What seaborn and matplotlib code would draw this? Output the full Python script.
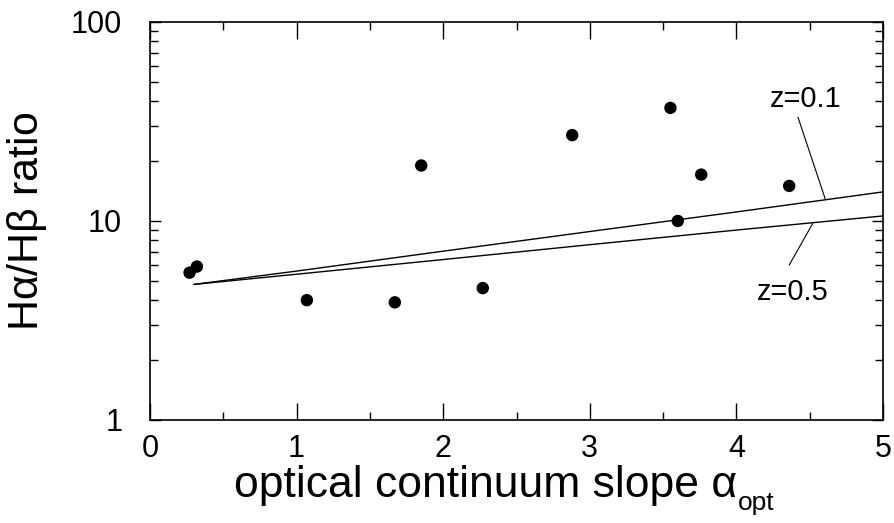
import numpy as np
import pandas as pd
import matplotlib
matplotlib.use("Agg")
import matplotlib.pyplot as plt
from matplotlib.ticker import FixedLocator, LogLocator, NullFormatter, MultipleLocator
import seaborn as sns

# ---- data ----
alpha_opt = [0.27, 0.32, 1.07, 1.67, 1.85, 2.27, 2.88, 3.55, 3.60, 3.76, 4.36]
ha_hb = [5.5, 5.9, 4.0, 3.9, 19.0, 4.6, 27.0, 37.0, 10.0, 17.1, 15.0]

curve_x = [0.3, 1.0, 2.0, 3.0, 4.0, 5.0]
curve_z01 = [4.8, 5.6, 7.05, 8.85, 11.1, 14.0]
curve_z05 = [4.8, 5.4, 6.4, 7.6, 9.0, 10.6]

y_ticks = [1, 10, 100]
y_tick_labels = ["1", "10", "100"]
x_ticks = [0, 1, 2, 3, 4, 5]

pts = pd.DataFrame({"alpha": alpha_opt, "ratio": ha_hb})
curves = pd.DataFrame({
    "alpha": curve_x + curve_x,
    "ratio": curve_z01 + curve_z05,
    "z": ["z=0.1"] * len(curve_x) + ["z=0.5"] * len(curve_x),
})

sns.set_style("ticks")
plt.rcParams["font.family"] = ["Liberation Sans", "DejaVu Sans"]
plt.rcParams["mathtext.fontset"] = "custom"
plt.rcParams["mathtext.rm"] = "Liberation Sans"
plt.rcParams["mathtext.it"] = "Liberation Sans"
plt.rcParams["text.color"] = "black"
plt.rcParams["axes.labelcolor"] = "black"
plt.rcParams["xtick.color"] = "black"
plt.rcParams["ytick.color"] = "black"

fig = plt.figure(figsize=(8.95, 5.23), dpi=100)
ax = fig.add_axes([0.1676, 0.197, 0.819, 0.761])

sns.lineplot(data=curves, x="alpha", y="ratio", units="z", estimator=None,
             color="black", lw=1.0, ax=ax, legend=False)
sns.scatterplot(data=pts, x="alpha", y="ratio", color="black", s=80,
                edgecolor="none", ax=ax, legend=False)

ax.set_yscale("log")
ax.set_xlim(0, 5)
ax.set_ylim(1, 100)

ax.yaxis.set_major_locator(FixedLocator(y_ticks))
ax.set_yticklabels(y_tick_labels)
ax.yaxis.set_minor_locator(LogLocator(base=10, subs=np.arange(2, 10)))
ax.yaxis.set_minor_formatter(NullFormatter())
ax.set_xticks(x_ticks)
ax.xaxis.set_minor_locator(MultipleLocator(0.5))

ax.tick_params(which="both", direction="in", top=True, right=True,
               labelsize=22, width=1.0, color="black", labelcolor="black")
ax.tick_params(axis="x", which="major", length=12, pad=10)
ax.tick_params(axis="x", which="minor", length=6)
ax.tick_params(axis="y", which="major", length=8, pad=20)
ax.tick_params(axis="y", which="minor", length=6)
for s in ax.spines.values():
    s.set_linewidth(1.2)
    s.set_color("black")

ax.set_xlabel("")
ax.set_ylabel(r"H$\alpha$/H$\beta$ ratio", fontsize=31, labelpad=16)

# x label with a small subscript, placed by hand
fig.text(0.543, 0.050, "optical continuum slope \u03b1", fontsize=32,
         ha="center", va="baseline")
fig.text(0.825, 0.025, "opt", fontsize=19, ha="left", va="baseline")

# curve labels with leader lines
ax.text(4.475, 41, "z=0.1", fontsize=21, ha="center", va="center")
ax.plot([4.42, 4.606], [33.2, 12.9], color="black", lw=0.8)
ax.text(4.385, 4.4, "z=0.5", fontsize=21, ha="center", va="center")
ax.plot([4.36, 4.52], [6.0, 9.7], color="black", lw=0.8)

fig.savefig("out.png", dpi=100)
plt.close(fig)
